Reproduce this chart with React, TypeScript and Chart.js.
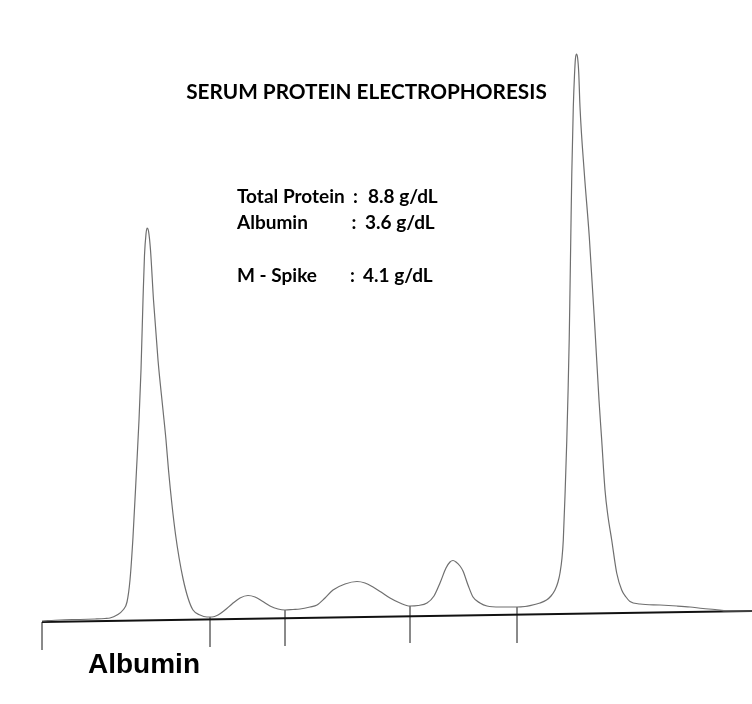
import React, { useEffect, useRef } from "react";
import { Chart, registerables } from "chart.js";

Chart.register(...registerables);

// Densitometer trace: migration position (x) and optical density height (y)
const tracePosition: number[] = [
  42, 60, 80, 95, 105, 110, 117, 123, 127, 130, 133, 136.5, 139, 141, 143, 144.5, 146, 147, 148.5, 150.5,
  153.5, 158, 163, 166, 168.5, 172, 175.6, 179.1, 183.1, 188, 193, 200, 207, 212, 218, 225, 232, 240, 248, 255,
  262, 270, 278, 285, 293, 300, 310, 317, 325, 333, 345, 357, 365, 373, 381, 390, 400, 410, 418, 427,
  434, 440, 446, 450, 453, 456, 460, 463, 468, 473, 480, 487, 500, 517, 525, 530, 540, 546.5, 551, 555,
  558, 560, 562, 563.3, 565.2, 566.8, 568.1, 569.2, 570.0, 570.8, 571.8, 573.3, 574.5, 575.5, 576.5, 577.5, 578.7, 580, 584.3, 589.3,
  595, 599, 601.7, 605, 607.8, 611.7, 616.7, 621.7, 626, 630, 640, 660, 677, 690, 703, 715, 727, 740, 752,
];
const traceDensity: number[] = [
  83, 84, 84.5, 85, 85.5, 86, 89, 94, 102, 124, 167, 234, 284, 334, 404, 449, 470, 476, 473, 454,
  404, 344, 294, 264, 234, 199, 169, 146, 125, 106, 94, 89, 87, 87, 89, 94, 100, 106, 108.5, 107,
  103, 98, 95, 94, 94.5, 95, 97, 99, 106, 114, 120, 122.5, 121, 117, 112, 106, 101, 98, 98.5, 101,
  108, 121, 136, 142, 143.5, 142, 138, 133, 119, 107, 101, 98, 97, 97, 97.5, 98.3, 101, 104, 108, 114,
  122, 131, 146, 164, 214, 264, 314, 364, 414, 467, 531, 597, 629, 646, 650, 647, 632, 597, 531, 467,
  374, 304, 264, 214, 189, 164, 131, 114, 107, 102.5, 100, 99, 98, 97, 95.5, 94.5, 93, 93, 93,
];

// Baseline (two ends)
const baselinePosition: number[] = [42, 752];
const baselineDensity: number[] = [82, 93];

// Fraction dividers
const dividerPosition: number[] = [42, 210, 285, 410, 517];
const dividerTop: number[] = [82, 87, 94, 98, 97];
const dividerBottom: number[] = [54, 57, 58, 61, 61];

const titleText = "SERUM PROTEIN ELECTROPHORESIS";
const infoLabels: string[] = ["Total Protein", "Albumin", "M - Spike"];
const infoValues: string[] = ["8.8 g/dL", "3.6 g/dL", "4.1 g/dL"];
const fractionLabel = "Albumin";

export default function App() {
  const canvasRef = useRef<HTMLCanvasElement | null>(null);

  useEffect(() => {
    if (!canvasRef.current) return;

    const textPlugin = {
      id: "spepText",
      afterDraw(chart: any) {
        const ctx = chart.ctx as CanvasRenderingContext2D;
        ctx.save();
        ctx.fillStyle = "#000";
        ctx.textBaseline = "alphabetic";
        ctx.textAlign = "center";
        ctx.font = "bold 20.75px Lato";
        ctx.fillText(titleText, 366.5, 99);

        ctx.textAlign = "left";
        ctx.font = "bold 19px Lato";
        const ys = [203, 229, 282];
        const colonX = [353, 351.5, 350];
        const valueX = [368, 365, 363];
        infoLabels.forEach((lab, i) => {
          ctx.fillText(lab, 237, ys[i]);
          ctx.fillText(":", colonX[i], ys[i]);
          ctx.fillText(infoValues[i], valueX[i], ys[i]);
        });

        ctx.font = "bold 28px 'Liberation Sans'";
        ctx.fillText(fractionLabel, 88, 673);
        ctx.restore();
      },
    };

    const datasets: any[] = [
      {
        label: "Trace",
        data: tracePosition.map((x, i) => ({ x, y: traceDensity[i] })),
        borderColor: "#6f6f6f",
        borderWidth: 1.2,
        pointRadius: 0,
        cubicInterpolationMode: "monotone",
        fill: false,
      },
      {
        label: "Baseline",
        data: baselinePosition.map((x, i) => ({ x, y: baselineDensity[i] })),
        borderColor: "#111",
        borderWidth: 2,
        pointRadius: 0,
        fill: false,
      },
      ...dividerPosition.map((x, i) => ({
        label: "Divider " + i,
        data: [
          { x, y: dividerTop[i] },
          { x, y: dividerBottom[i] },
        ],
        borderColor: "#7a7a7a",
        borderWidth: 1,
        pointRadius: 0,
        fill: false,
      })),
    ];

    const chart = new Chart(canvasRef.current, {
      type: "line",
      data: { datasets },
      options: {
        animation: false,
        responsive: true,
        maintainAspectRatio: false,
        layout: { padding: 0 },
        plugins: {
          legend: { display: false },
          tooltip: { enabled: false },
          title: { display: false },
        },
        scales: {
          x: { type: "linear", min: 0, max: 752, display: false },
          y: { type: "linear", min: 0, max: 704, display: false },
        },
      },
      plugins: [textPlugin],
    });

    return () => chart.destroy();
  }, []);

  return (
    <div
      style={{
        position: "fixed",
        left: 0,
        top: 0,
        width: 752,
        height: 704,
        background: "#fff",
      }}
    >
      <canvas ref={canvasRef} />
    </div>
  );
}
